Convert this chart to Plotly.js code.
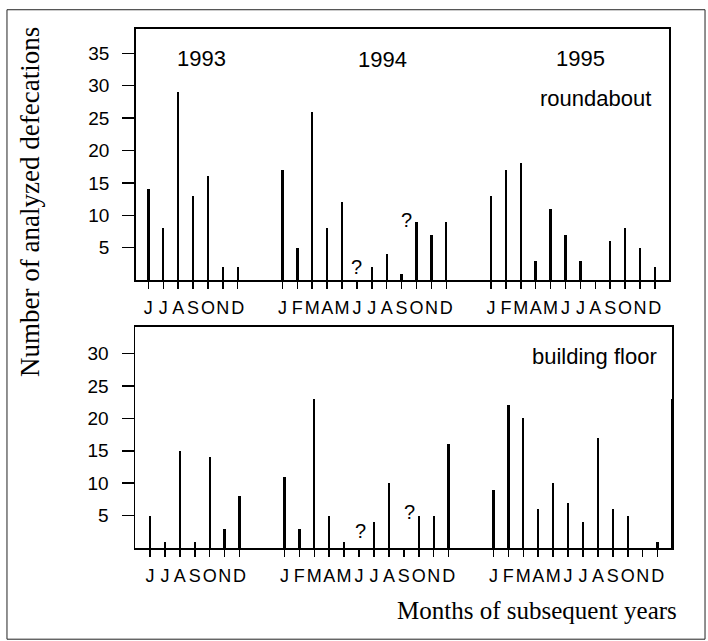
<!DOCTYPE html>
<html>
<head>
<meta charset="utf-8">
<script src="https://cdn.plot.ly/plotly-3.0.1.min.js"></script>
<style>html,body{margin:0;padding:0;background:#fff;}#chart{width:708px;height:641px;}</style>
</head>
<body>
<div id="chart"></div>
<script>
// ---- data ----
const monthLetters = ['J','F','M','A','M','J','J','A','S','O','N','D'];
const years = [1993, 1994, 1995];
const firstMonth1993 = 6; // June

const roundabout1993 = [14, 8, 29, 13, 16, 2, 2];
const roundabout1994 = [17, 5, 26, 8, 12, 0, 2, 4, 1, 9, 7, 9];
const roundabout1995 = [13, 17, 18, 3, 11, 7, 3, 0, 6, 8, 5, 2];

const floor1993 = [5, 1, 15, 1, 14, 3, 8];
const floor1994 = [11, 3, 23, 5, 1, 0, 4, 10, 0, 5, 5, 16];
const floor1995 = [9, 22, 20, 6, 10, 7, 4, 17, 6, 5, 0, 1];
const floorEdgeMark = 23; // mark drawn at the right frame of the lower panel

const missingMonths = [[1994, 6], [1994, 9]]; // "?" months
const missingYRoundabout = [2.0, 9.3];
const missingYFloor = [2.6, 5.5];

const yTicksTop = [5, 10, 15, 20, 25, 30, 35];
const yTicksBottom = [5, 10, 15, 20, 25, 30];

// ---- build slots ----
function slot(year, month) { return (year - 1993) * 14 + (month - 1) - (firstMonth1993 - 1); }

function build(s93, s94, s95) {
  const xs = [], ys = [];
  [[1993, s93, firstMonth1993], [1994, s94, 1], [1995, s95, 1]].forEach(([yr, arr, m0]) => {
    arr.forEach((v, i) => { xs.push(slot(yr, m0 + i)); ys.push(v); });
  });
  return {xs, ys};
}
const tickVals = [], tickText = [];
years.forEach(yr => {
  const m0 = yr === 1993 ? firstMonth1993 : 1;
  for (let m = m0; m <= 12; m++) { tickVals.push(slot(yr, m)); tickText.push(monthLetters[m - 1]); }
});

const r = build(roundabout1993, roundabout1994, roundabout1995);
const f = build(floor1993, floor1994, floor1995);
f.xs.push(slot(1995, 12) + 1); f.ys.push(floorEdgeMark);

const barW = 0.16;
const traces = [
  {type: 'bar', x: r.xs, y: r.ys, width: barW, marker: {color: '#000', line: {width: 0}}, xaxis: 'x', yaxis: 'y', hoverinfo: 'skip'},
  {type: 'bar', x: f.xs, y: f.ys, width: barW, marker: {color: '#000', line: {width: 0}}, xaxis: 'x2', yaxis: 'y2', hoverinfo: 'skip', cliponaxis: true}
];

const tickFont = {family: 'Liberation Sans, Arial, sans-serif', size: 19, color: '#000'};
const monthFont = {family: 'Liberation Sans, Arial, sans-serif', size: 18, color: '#000'};
const xCommon = {
  tickmode: 'array', tickvals: tickVals, ticktext: tickText, ticks: 'outside', ticklen: 7, tickwidth: 1.5,
  tickcolor: '#000', tickfont: monthFont, tickangle: 0, showgrid: false, zeroline: false, showline: true, linewidth: 2,
  linecolor: '#000', mirror: true, ticklabelstandoff: 3
};
const yCommon = {
  ticks: 'outside', ticklen: 12, tickwidth: 1.5, tickcolor: '#000', tickfont: tickFont, showgrid: false,
  zeroline: false, showline: true, linewidth: 1.5, linecolor: '#000', mirror: true, tickmode: 'array',
  ticklabelstandoff: 9
};

const annFont = {family: 'Liberation Sans, Arial, sans-serif', size: 22, color: '#000'};
const qFont = {family: 'Liberation Sans, Arial, sans-serif', size: 20, color: '#000'};
const annotations = [
  {xref: 'x', yref: 'y', x: 3.54, y: 34.2, text: String(years[0]), showarrow: false, font: annFont},
  {xref: 'x', yref: 'y', x: 15.75, y: 34.0, text: String(years[1]), showarrow: false, font: annFont},
  {xref: 'x', yref: 'y', x: 29.0, y: 34.2, text: String(years[2]), showarrow: false, font: annFont},
  {xref: 'x', yref: 'y', x: 33.87, y: 28.1, text: 'roundabout', xanchor: 'right', showarrow: false, font: annFont},
  {xref: 'x2', yref: 'y2', x: 34.1, y: 29.5, text: 'building floor', xanchor: 'right', showarrow: false, font: annFont},
  {xref: 'paper', yref: 'paper', x: -0.1955, y: 0.6668, text: 'Number of analyzed defecations', textangle: -90,
   showarrow: false, xanchor: 'center', yanchor: 'middle', font: {family: 'Liberation Serif, Times New Roman, serif', size: 27, color: '#000'}},
  {xref: 'paper', yref: 'paper', x: 0.7486, y: -0.1204, text: 'Months of subsequent years',
   showarrow: false, xanchor: 'center', yanchor: 'middle', font: {family: 'Liberation Serif, Times New Roman, serif', size: 25, color: '#000'}}
];
missingMonths.forEach(([yr, m], i) => {
  annotations.push({xref: 'x', yref: 'y', x: slot(yr, m) + (m === 9 ? 0.3 : 0), y: missingYRoundabout[i], text: '?', showarrow: false, font: qFont});
  annotations.push({xref: 'x2', yref: 'y2', x: slot(yr, m) + (m === 9 ? 0.35 : 0.07), y: missingYFloor[i], text: '?', showarrow: false, font: qFont});
});

const layout = {
  width: 708, height: 641,
  margin: {l: 135, r: 36, t: 29.3, b: 93.4, pad: 0},
  paper_bgcolor: '#fff', plot_bgcolor: '#fff', showlegend: false, bargap: 0,
  xaxis: Object.assign({}, xCommon, {domain: [0.0013, 0.995], range: [-0.85, 34.97], anchor: 'y'}),
  yaxis: Object.assign({}, yCommon, {domain: [0.5163, 1], range: [0, 38.75], tickvals: yTicksTop, anchor: 'x'}),
  xaxis2: Object.assign({}, xCommon, {domain: [0, 1], range: [-1.005, 34.96], anchor: 'y2'}),
  yaxis2: Object.assign({}, yCommon, {domain: [0, 0.4262], range: [0, 34.14], tickvals: yTicksBottom, anchor: 'x2'}),
  annotations: annotations,
  shapes: [
    {type: 'rect', xref: 'paper', yref: 'paper', x0: -0.2384, x1: 1.0615, y0: -0.1757, y1: 1.0371,
     line: {color: '#222', width: 1}, fillcolor: 'rgba(0,0,0,0)'}
  ]
};

Plotly.newPlot('chart', traces, layout, {staticPlot: true, displayModeBar: false});
</script>
</body>
</html>
